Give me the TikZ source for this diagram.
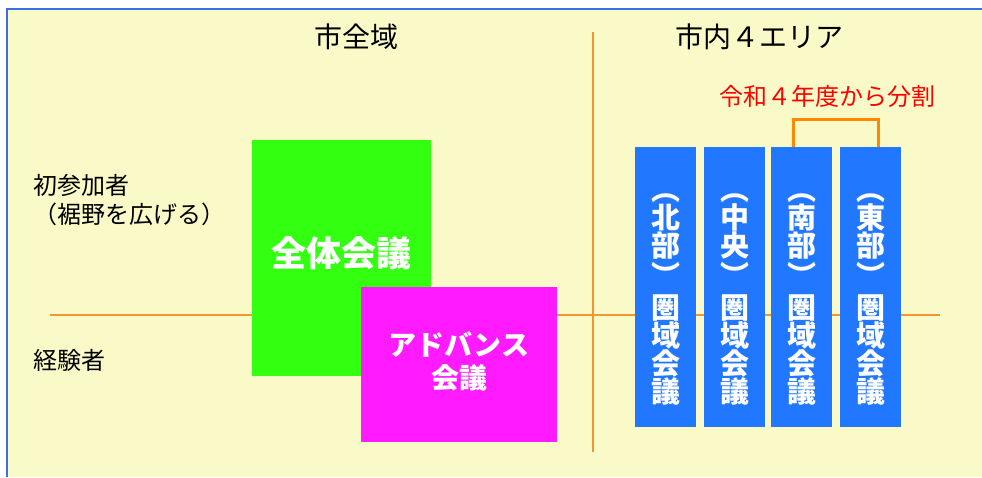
\documentclass[tikz,border=0pt]{standalone}
\usepackage{fontspec}
\setmainfont{Noto Sans CJK JP}
\definecolor{bgyellow}{RGB}{250,250,200}
\definecolor{bordblue}{RGB}{60,110,225}
\definecolor{guideorange}{RGB}{242,150,50}
\definecolor{brorange}{RGB}{255,136,0}
\definecolor{boxgreen}{RGB}{51,255,17}
\definecolor{boxmag}{RGB}{255,26,255}
\definecolor{boxblue}{RGB}{34,119,255}
\definecolor{redtxt}{RGB}{255,0,0}
\begin{document}
\begin{tikzpicture}[x=1pt,y=-1pt,
  guide/.style={draw=guideorange,line width=1.3pt},
  bracketline/.style={draw=brorange,line width=3pt},
  fillbox/.style={anchor=north west,inner sep=0pt,draw=none},
  areabox/.style={fillbox,fill=boxblue,minimum width=61,minimum height=280},
  head/.style={font=\fontsize{28}{30}\selectfont,text=black,inner sep=0pt},
  rowlab/.style={font=\fontsize{24}{28}\selectfont,text=black,inner sep=0pt,anchor=west,align=left},
  vtext/.style={font=\bfseries\fontsize{29}{28}\selectfont,text=white,align=center,inner sep=0pt},
  bigw/.style={font=\bfseries\fontsize{35}{38}\selectfont,text=white,inner sep=0pt,align=center},
]
\useasboundingbox (0,0) rectangle (982,477);
\fill[white] (0,0) rectangle (982,477);
\fill[bgyellow] (7,9) rectangle (982,477);
\draw[bordblue,line width=2pt] (7,477) -- (7,9) -- (982,9);

% guide lines
\draw[guide] (50,315) -- (940,315);
\draw[guide] (593,32) -- (593,452);

% headers
\node[head] (hall) at (356,37) {市全域};
\node[head] (harea) at (759,37) {市内４エリア};

% row labels
\node[rowlab] (r1) at (33,185) {初参加者};
\node[rowlab] (r2) at (33,214) {（裾野を広げる）};
\node[rowlab] (r3) at (33,360) {経験者};

% whole-city boxes
\node[fillbox,fill=boxgreen,minimum width=179,minimum height=236] (zentai) at (252,140) {};
\node[bigw] (zentaitxt) at (341,253) {全体会議};
\node[fillbox,fill=boxmag,minimum width=196,minimum height=155] (adv) at (361,287) {};
\node[bigw,font=\bfseries\fontsize{28}{33}\selectfont] (advtxt) at (459,361) {アドバンス\\会議};

% area boxes
\node[areabox] (b1) at (635,147) {};
\node[areabox] (b2) at (704,147) {};
\node[areabox] (b3) at (771,147) {};
\node[areabox] (b4) at (840,147) {};
\node[vtext] (t1) at (b1.center) [yshift=-12pt] {︵\\[0pt]北\\部\\[2pt]︶\\[4pt]圏\\域\\会\\議};
\node[vtext] (t2) at (b2.center) [yshift=-12pt] {︵\\[0pt]中\\央\\[2pt]︶\\[4pt]圏\\域\\会\\議};
\node[vtext] (t3) at (b3.center) [yshift=-12pt] {︵\\[0pt]南\\部\\[2pt]︶\\[4pt]圏\\域\\会\\議};
\node[vtext] (t4) at (b4.center) [yshift=-12pt] {︵\\[0pt]東\\部\\[2pt]︶\\[4pt]圏\\域\\会\\議};

% split bracket
\coordinate (brtop) at ([xshift=-8pt,yshift=28pt]b3.north);
\draw[bracketline] ([xshift=-8pt]b3.north) -- (brtop) -| ([xshift=8pt]b4.north);
\node[font=\fontsize{24}{26}\selectfont,text=redtxt,inner sep=0pt] (split) at (827,96) {令和４年度から分割};
\end{tikzpicture}
\end{document}
